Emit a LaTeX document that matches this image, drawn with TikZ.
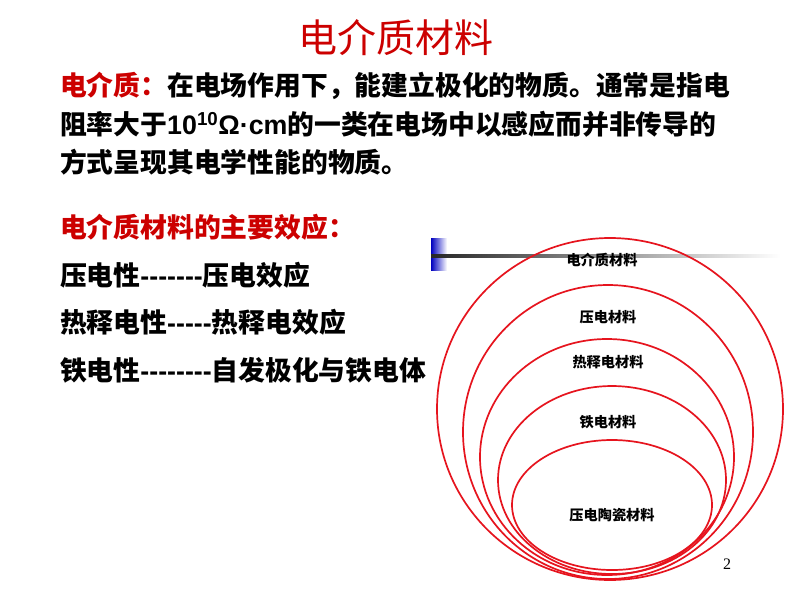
\documentclass[tikz,border=0pt]{standalone}
\usepackage{fontspec}
\setmainfont{Liberation Sans}
\newfontfamily\cjk{Noto Sans CJK SC}
\newfontfamily\serif{Liberation Serif}
\definecolor{titlered}{RGB}{204,0,0}
\definecolor{ringred}{RGB}{230,20,30}
\newcommand{\lat}[1]{{\rmfamily\bfseries #1}}

\begin{document}
\begin{tikzpicture}[x=1pt, y=-1pt,
    every node/.style={inner sep=0pt, outer sep=0pt},
    body/.style={anchor=west, font=\cjk\bfseries\fontsize{26.8}{30}\selectfont},
    ring/.style={draw=ringred, line width=1.7pt},
    ringlabel/.style={font=\cjk\bfseries\fontsize{14.2}{16}\selectfont}]
    \useasboundingbox[fill=white] (0, 0) rectangle (800, 600);

    \node[titlered, font=\cjk\fontsize{39}{42}\selectfont] (title) at (396, 38) {电介质材料};

    \node[body] (def1) at (60, 86) {\textcolor{titlered}{电介质：}在电场作用下，能建立极化的物质。通常是指电};
    \node[body] (def2) at (60, 124) {阻率大于\lat{10\textsuperscript{10}Ω·cm}的一类在电场中以感应而并非传导的};
    \node[body] (def3) at (60, 162) {方式呈现其电学性能的物质。};

    \node[body, titlered] (effects) at (60, 227) {电介质材料的主要效应：};
    \node[body] (piezo) at (60, 275) {压电性\lat{-{}-{}-{}-{}-{}-{}-}压电效应};
    \node[body] (pyro) at (60, 322) {热释电性\lat{-{}-{}-{}-{}-}热释电效应};
    \node[body] (ferro) at (60, 370) {铁电性\lat{-{}-{}-{}-{}-{}-{}-{}-}自发极化与铁电体};

    % decoration bar
    \shade[left color=blue!75!black, right color=white] (431, 238) rectangle (447, 270);
    \shade[left color=black!85, right color=white] (431, 254.5) rectangle (780, 257.5);

    % nested rings
    \draw[ring] (610, 409) ellipse [x radius=173pt, y radius=171pt];
    \draw[ring] (608, 432) ellipse [x radius=145pt, y radius=147pt];
    \draw[ring] (607, 457) ellipse [x radius=127pt, y radius=118pt];
    \draw[ring] (612, 480) ellipse [x radius=114pt, y radius=94pt];
    \draw[ring] (612, 505) ellipse [x radius=100pt, y radius=65pt];

    \node[ringlabel] (dielectric) at (602, 260) {电介质材料};
    \node[ringlabel] (piezomat) at (608, 317) {压电材料};
    \node[ringlabel] (pyromat) at (608, 362) {热释电材料};
    \node[ringlabel] (ferromat) at (608, 422) {铁电材料};
    \node[ringlabel] (ceramic) at (612, 515) {压电陶瓷材料};

    \node[font=\serif\fontsize{16}{18}\selectfont] (page) at (727, 564) {2};
\end{tikzpicture}
\end{document}
